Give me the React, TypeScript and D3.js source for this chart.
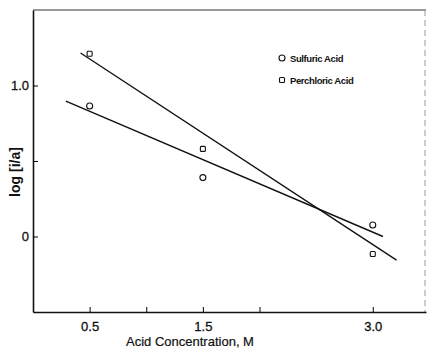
import React, { useEffect, useRef } from "react";
import * as d3 from "d3";

// acid concentration, M
const concentrations = [0.5, 1.5, 3.0];
const sulfuric = [0.864, 0.39, 0.076];
const perchloric = [1.21, 0.58, -0.116];

// fitted lines, [x, y] end points
const sulfuricFit = [[0.29, 0.897], [3.09, 0.0]];
const perchloricFit = [[0.42, 1.215], [3.21, -0.156]];

const xTicks = [0.5, 1.0, 1.5, 2.0, 3.0];
const xLabels = ["0.5", "", "1.5", "", "3.0"];
const yTicks = [0, 0.5, 1.0];
const yLabels = ["0", "", "1.0"];

const legendItems = ["Sulfuric Acid", "Perchloric Acid"];

const App = () => {
  const ref = useRef<SVGSVGElement>(null);

  useEffect(() => {
    const width = 427;
    const height = 348;
    const margin = { top: 10, right: 1, bottom: 36, left: 33 };
    const font = "'Liberation Sans', Arial, sans-serif";

    const svg = d3.select(ref.current);
    svg.selectAll("*").remove();
    svg.attr("width", width).attr("height", height);
    svg.append("rect").attr("width", width).attr("height", height).attr("fill", "#fff");

    const x = d3.scaleLinear().domain([0, 3.47]).range([margin.left, width - margin.right]);
    const y = d3.scaleLinear().domain([-0.5, 1.5]).range([height - margin.bottom, margin.top]);

    // frame: top and right are faint
    svg.append("line").attr("x1", x(0)).attr("x2", x(3.47)).attr("y1", y(1.5)).attr("y2", y(1.5))
      .attr("stroke", "#333").attr("stroke-width", 1);
    svg.append("line").attr("x1", x(3.47) - 1).attr("x2", x(3.47) - 1).attr("y1", y(1.5)).attr("y2", y(-0.5))
      .attr("stroke", "#999").attr("stroke-width", 1).attr("stroke-dasharray", "6 4");

    // bottom axis
    const xAxis = svg.append("g").attr("transform", `translate(0, ${y(-0.5)})`)
      .call(d3.axisBottom(x).tickValues(xTicks).tickSizeInner(-5).tickSizeOuter(0)
        .tickFormat((d, i) => xLabels[i]).tickPadding(10));
    xAxis.select(".domain").attr("stroke-width", 1.6).attr("stroke", "#111");
    xAxis.selectAll("text").style("font-family", font).style("font-size", "13px").attr("fill", "#111")
      .attr("stroke", "#111").attr("stroke-width", 0.3);

    // left axis
    const yAxis = svg.append("g").attr("transform", `translate(${x(0)}, 0)`)
      .call(d3.axisLeft(y).tickValues(yTicks).tickSizeInner(-5).tickSizeOuter(0)
        .tickFormat((d, i) => yLabels[i]).tickPadding(4));
    yAxis.select(".domain").attr("stroke-width", 1.6).attr("stroke", "#111");
    yAxis.selectAll("text").style("font-family", font).style("font-size", "13px").attr("fill", "#111")
      .attr("stroke", "#111").attr("stroke-width", 0.3);

    svg.append("text").attr("x", 190).attr("y", 346).attr("text-anchor", "middle")
      .style("font-family", font).style("font-size", "13px").attr("fill", "#111")
      .attr("stroke", "#111").attr("stroke-width", 0.2)
      .text("Acid Concentration, M");

    svg.append("text").attr("transform", "rotate(-90)").attr("x", -172).attr("y", 20)
      .attr("text-anchor", "middle").style("font-family", font).style("font-size", "14px")
      .style("font-weight", "bold").attr("fill", "#111")
      .text("log [i/a]");

    const line = d3.line<number[]>().x(d => x(d[0])).y(d => y(d[1]));
    [sulfuricFit, perchloricFit].forEach(fit => {
      svg.append("path").attr("d", line(fit)).attr("fill", "none")
        .attr("stroke", "#111").attr("stroke-width", 1.4);
    });

    svg.append("g").selectAll("circle").data(concentrations).join("circle")
      .attr("cx", d => x(d)).attr("cy", (d, i) => y(sulfuric[i])).attr("r", 3)
      .attr("fill", "#fff").attr("stroke", "#111").attr("stroke-width", 1.1);

    svg.append("g").selectAll("rect").data(concentrations).join("rect")
      .attr("x", d => x(d) - 2.5).attr("y", (d, i) => y(perchloric[i]) - 2.5)
      .attr("width", 5).attr("height", 5).attr("rx", 1)
      .attr("fill", "#fff").attr("stroke", "#111").attr("stroke-width", 1.1);

    // legend
    const legend = svg.append("g").attr("transform", "translate(282, 58)");
    legend.append("circle").attr("cx", 0).attr("cy", 0).attr("r", 3)
      .attr("fill", "#fff").attr("stroke", "#111").attr("stroke-width", 1.1);
    legend.append("rect").attr("x", -2.5).attr("y", 19.5).attr("width", 5).attr("height", 5).attr("rx", 1)
      .attr("fill", "#fff").attr("stroke", "#111").attr("stroke-width", 1.1);
    legend.selectAll("text").data(legendItems).join("text")
      .attr("x", 8).attr("y", (d, i) => i * 22 + 3.5).text(d => d)
      .style("font-family", font).style("font-size", "9.5px").style("font-weight", "bold")
      .attr("fill", "#111").attr("letter-spacing", "-0.4");
  }, []);

  return <svg ref={ref} style={{ position: "absolute", left: 0, top: 0 }}></svg>;
};

export default App;
